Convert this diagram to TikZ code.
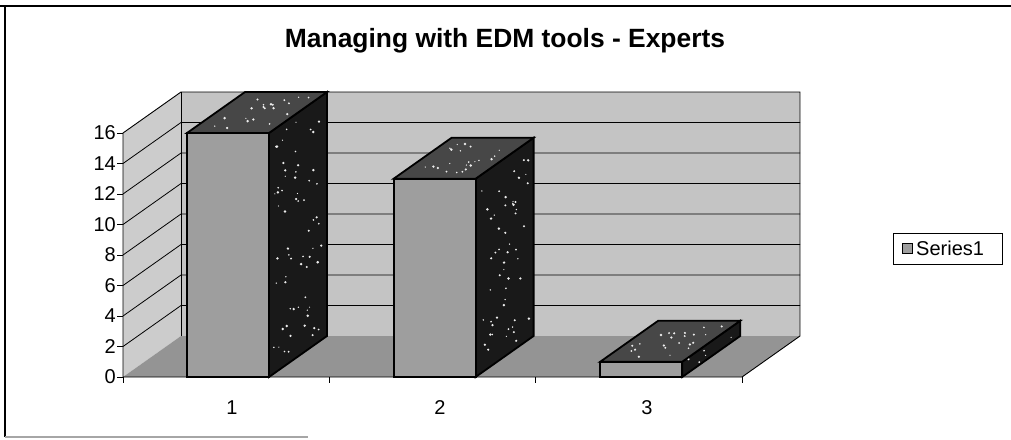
\documentclass[tikz,border=0pt]{standalone}
\usepackage{fontspec}
\setmainfont{Liberation Sans}
\definecolor{leftwall}{gray}{0.80}
\definecolor{backwall}{gray}{0.77}
\definecolor{floorfill}{gray}{0.58}
\definecolor{barfront}{gray}{0.62}
\definecolor{barside}{gray}{0.10}
\definecolor{bartop}{gray}{0.28}
\tikzset{
  wallline/.style={draw=black, line width=0.9pt},
  gridline/.style={draw=black, line width=0.8pt},
  baredge/.style={draw=black, line width=1.8pt, line join=miter},
  axislabel/.style={font=\fontsize{20}{22}\selectfont, inner sep=0pt},
  tickline/.style={draw=black, line width=0.9pt},
  speck/.style={fill=white!85!gray},
}
\begin{document}
\begin{tikzpicture}[x=1pt,y=-1pt]
\useasboundingbox (0,0) rectangle (1011,439);
\pgfmathsetseed{4711}
% chart frame
\draw[line width=1.5pt] (0,6) -- (1011,6);
\draw[line width=1.5pt] (5,6) -- (5,437);
\draw[line width=1.2pt, gray!70] (5,437) -- (308,437);

% title
\node[anchor=base, font=\bfseries\fontsize{26.4}{29}\selectfont, inner sep=0pt] (title) at (505,47) {Managing with EDM tools - Experts};

% walls and floor
\coordinate (fl) at (123,377);
\coordinate (fr) at (742,377);
\coordinate (bl) at (181,336);
\coordinate (br) at (800,336);
\coordinate (tl) at (123,133);
\coordinate (tb) at (181,92);
\coordinate (tr) at (800,92);
\fill[leftwall] (tl) -- (tb) -- (bl) -- (fl) -- cycle;
\fill[backwall] (tb) rectangle (br);
\fill[floorfill] (fl) -- (bl) -- (br) -- (fr) -- cycle;
\foreach \k in {1,...,7} {
  \pgfmathsetmacro\gy{2*\k*15.25}
  \draw[gridline] (123,{377-\gy}) -- (181,{336-\gy}) -- (800,{336-\gy});
}
\draw[line width=0.5pt] (tb) -- (bl);
\draw[wallline] (tl) -- (tb) -- (tr) -- (br) -- (fr) -- (fl) -- cycle;

% value axis
\foreach \v in {0,2,...,16} {
  \pgfmathsetmacro\vy{377-\v*15.25}
  \draw[tickline] (117,\vy) -- (123,\vy);
  \node[axislabel, anchor=east] (y\v) at (116,\vy) {\v};
}
% category axis
\foreach \t in {0,1,2,3} {
  \pgfmathsetmacro\tx{123+\t*206.33}
  \draw[tickline] (\tx,377) -- (\tx,383);
}
\node[axislabel] (c1) at (232,408) {1};
\node[axislabel] (c2) at (440,408) {2};
\node[axislabel] (c3) at (647,408) {3};

% columns: side, top and front faces, with a grainy texture on the dark faces
\foreach \i/\v in {0/16,1/13,2/1} {
  \pgfmathsetmacro\xl{187+206.6*\i}
  \pgfmathsetmacro\xr{\xl+82}
  \pgfmathsetmacro\yt{377-\v*15.25}
  \pgfmathsetmacro\hh{377-\yt}
  \filldraw[baredge, fill=barside] (\xr,377) -- ({\xr+58},336) -- ({\xr+58},{\yt-41}) -- (\xr,\yt) -- cycle;
  \pgfmathtruncatemacro\ns{\hh*58/220+1}
  \foreach \n in {1,...,\ns} {
    \pgfmathsetmacro\uu{0.08+0.84*rnd}
    \pgfmathsetmacro\vv{0.03+0.94*rnd}
    \pgfmathsetmacro\rr{0.6+0.8*rnd}
    \fill[speck] ({\xr+58*\uu},{\yt-41*\uu+\hh*\vv}) circle (\rr);
  }
  \filldraw[baredge, fill=bartop] (\xl,\yt) -- ({\xl+58},{\yt-41}) -- ({\xr+58},{\yt-41}) -- (\xr,\yt) -- cycle;
  \foreach \n in {1,...,22} {
    \pgfmathsetmacro\uu{0.1+0.8*rnd}
    \pgfmathsetmacro\ww{0.12+0.76*rnd}
    \pgfmathsetmacro\rr{0.6+0.8*rnd}
    \fill[speck] ({\xl+82*\uu+58*\ww},{\yt-41*\ww}) circle (\rr);
  }
  \filldraw[baredge, fill=barfront] (\xl,\yt) rectangle (\xr,377);
}

% legend
\node[draw=black, line width=0.9pt, minimum width=109pt, minimum height=31pt, inner sep=0pt] (legend) at (947.5,248.5) {};
\node[draw=black, line width=0.8pt, fill=barfront, minimum size=10pt, inner sep=0pt] (legkey) at (907,248.5) {};
\node[axislabel, anchor=west] (legtext) at (916,248.5) {Series1};
\end{tikzpicture}
\end{document}
